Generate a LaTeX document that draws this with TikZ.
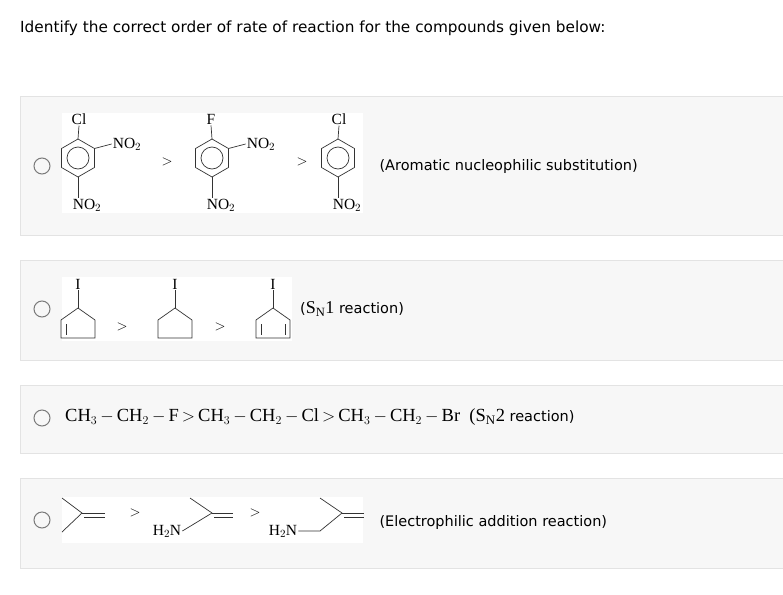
\documentclass[tikz,border=0pt]{standalone}
\usepackage{fontspec}
\setmainfont{Liberation Serif}
\newfontfamily\uisans{DejaVu Sans}
\usetikzlibrary{positioning}
\definecolor{panelfill}{HTML}{F7F7F7}
\definecolor{paneledge}{HTML}{E3E3E3}
\definecolor{radiogray}{HTML}{7A7A7A}
\tikzset{>=stealth}
\newcommand{\benz}[2]{% centre x, centre y
  \draw[bond] ([shift={(#1,#2)}]90:19) \foreach \a in {150,210,...,450} {-- ([shift={(#1,#2)}]\a:19)};
  \draw[bond] (#1,#2) circle (11);}
\newcommand{\bd}{\,$-$\,}

\begin{document}
\begin{tikzpicture}[x=1pt, y=-1pt,
  panel/.style={fill=panelfill, draw=paneledge, line width=0.8pt},
  radio/.style={draw=radiogray, line width=1pt},
  bond/.style={line width=0.7pt, black!80},
  lbl/.style={inner sep=1pt, font=\fontsize{15.5}{15.5}\selectfont},
  note/.style={font=\uisans\fontsize{14.5}{14.5}\selectfont, anchor=west}]
\useasboundingbox (0,0) rectangle (783,594);
\node[anchor=west, inner sep=0pt, font=\uisans\fontsize{15.3}{15.3}\selectfont] (title) at (20,28) {Identify the correct order of rate of reaction for the compounds given below:};

% panels
\draw[panel] (20,96) rectangle (790,235);
\draw[panel] (20,260) rectangle (790,360);
\draw[panel] (20,385) rectangle (790,453);
\draw[panel] (20,478) rectangle (790,568);
\fill[white] (62,113) rectangle (363,213);
\fill[white] (62,277) rectangle (292,341);
\fill[white] (62,497) rectangle (363,543);
\foreach \y in {166,309,418,520} \draw[radio] (42,\y) circle (8);

% row 1
\benz{78}{158}
\node[lbl] (cla) at (79,119) {Cl};
\node[lbl] (noa) at (127,144) {NO$_2$};
\node[lbl] (nob) at (87,205) {NO$_2$};
\draw[bond] (78,139) -- (cla.south);
\draw[bond] (94.5,148.5) -- (noa.west);
\draw[bond] (78,177) -- (nob.north -| 78,0);
\node[lbl] (gt1) at (167,162) {$>$};
\benz{212}{158}
\node[lbl] (fa) at (211,119) {F};
\node[lbl] (noc) at (261,144) {NO$_2$};
\node[lbl] (nod) at (221,205) {NO$_2$};
\draw[bond] (212,139) -- (fa.south);
\draw[bond] (228.5,148.5) -- (noc.west);
\draw[bond] (212,177) -- (nod.north -| 212,0);
\node[lbl] (gt2) at (302,162) {$>$};
\benz{338}{158}
\node[lbl] (clb) at (339,119) {Cl};
\node[lbl] (noe) at (347,205) {NO$_2$};
\draw[bond] (338,139) -- (clb.south);
\draw[bond] (338,177) -- (noe.north -| 338,0);
\node[note] (n1) at (376,166) {(Aromatic nucleophilic substitution)};

% row 2
\foreach \cx/\l/\r [count=\i] in {78/1/0, 175/0/0, 273/1/1} {
  \draw[bond] (\cx,308) -- (\cx+17,320) -- (\cx+17,338) -- (\cx-17,338) -- (\cx-17,320) -- cycle;
  \node[lbl] (io\i) at (\cx,284) {I};
  \draw[bond] (\cx,308) -- (io\i.south);
  \ifnum\l=1 \draw[bond] (\cx-12,324) -- (\cx-12,335); \fi
  \ifnum\r=1 \draw[bond] (\cx+12,324) -- (\cx+12,335); \fi
}
\node[lbl] (gt3) at (122,327) {$>$};
\node[lbl] (gt4) at (220,327) {$>$};
\node[note, inner sep=0pt] (n2) at (300,309) {({\rmfamily\fontsize{18}{18}\selectfont S$_{\mathrm{N}}$1} reaction)};

% row 3
\node[anchor=west, inner sep=0pt, font=\fontsize{18.5}{18.5}\selectfont] (eq) at (65,417)
  {CH$_3$\bd CH$_2$\bd F\,$>$\,CH$_3$\bd CH$_2$\bd Cl\,$>$\,CH$_3$\bd CH$_2$\bd Br\enspace(S$_{\mathrm{N}}$2 {\uisans\fontsize{14.5}{14.5}\selectfont reaction)}};

% row 4
\draw[bond] (62,498) -- (82,513) -- (62,532);
\draw[bond] (82,513) -- (105,513) (84,517.5) -- (105,517.5);
\node[lbl] (gt5) at (135,513) {$>$};
\node[lbl] (nha) at (167,531) {H$_2$N};
\draw[bond] (190,498) -- (212,513) -- (nha.east);
\draw[bond] (212,513) -- (233,513) (214,517.5) -- (233,517.5);
\node[lbl] (gt6) at (255,513) {$>$};
\node[lbl] (nhb) at (283,531) {H$_2$N};
\draw[bond] (320,498) -- (342,513) -- (320,531) -- (nhb.east);
\draw[bond] (342,513) -- (364,513) (344,517.5) -- (364,517.5);
\node[note] (n4) at (376,522) {(Electrophilic addition reaction)};
\end{tikzpicture}
\end{document}
